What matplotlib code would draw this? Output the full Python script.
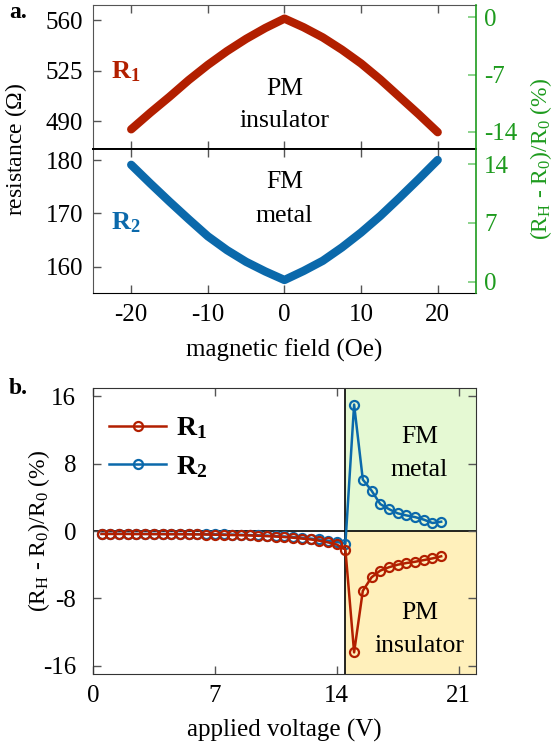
import numpy as np
import matplotlib

matplotlib.use("Agg")

import matplotlib.pyplot as plt

plt.rcParams['font.family'] = ['Liberation Serif', 'DejaVu Serif']
plt.rcParams['mathtext.fontset'] = 'custom'
plt.rcParams['mathtext.rm'] = 'Liberation Serif'
plt.rcParams['mathtext.it'] = 'Liberation Serif:italic'
plt.rcParams['mathtext.bf'] = 'Liberation Serif:bold'
plt.rcParams['axes.unicode_minus'] = False

# --- panel a: resistance vs magnetic field ---
field = [-20, -17.5, -15, -12.5, -10, -7.5, -5, -2.5, 0,
         2.5, 5, 7.5, 10, 12.5, 15, 17.5, 20]
r1 = [484.5, 496, 507, 518.5, 529, 538.5, 547, 554.5, 561,
      555, 548, 539.5, 530, 519, 507, 495, 482.5]
r2 = [179.1, 175.6, 172.2, 168.9, 165.7, 163.1, 160.9, 159.1, 157.5,
      159.2, 161.1, 163.6, 166.4, 169.5, 172.9, 176.4, 180.0]

# --- panel b: MR vs applied voltage ---
voltage = [0.5, 1.0, 1.5, 2.0, 2.5, 3.0, 3.5, 4.0, 4.5, 5.0,
           5.5, 6.0, 6.5, 7.0, 7.5, 8.0, 8.5, 9.0, 9.5, 10.0,
           10.5, 11.0, 11.5, 12.0, 12.5, 13.0, 13.5, 14.0, 14.5,
           15.0, 15.5, 16.0, 16.5, 17.0, 17.5, 18.0, 18.5, 19.0, 19.5, 20.0]
mr1 = [-0.35, -0.35, -0.35, -0.35, -0.36, -0.36, -0.37, -0.37, -0.38, -0.38,
       -0.39, -0.4, -0.42, -0.44, -0.46, -0.48, -0.5, -0.53, -0.57, -0.61,
       -0.66, -0.72, -0.8, -0.9, -1.0, -1.15, -1.35, -1.6, -2.2,
       -14.4, -7.1, -5.5, -4.7, -4.3, -4.0, -3.8, -3.65, -3.45, -3.25, -3.0]
mr2 = [-0.33, -0.33, -0.33, -0.33, -0.34, -0.34, -0.34, -0.35, -0.35, -0.35,
       -0.36, -0.37, -0.38, -0.39, -0.41, -0.43, -0.45, -0.48, -0.51, -0.55,
       -0.6, -0.65, -0.72, -0.8, -0.9, -1.0, -1.15, -1.3, -1.5,
       15.0, 6.1, 4.8, 3.2, 2.6, 2.1, 1.85, 1.65, 1.35, 0.95, 1.1]
TRANSITION_V = 14.5

RED = '#b21f00'
BLUE = '#0b69ab'
GREEN = '#1e9b1e'
LIGHT_GREEN = '#79cc79'
GRAY = '#555555'
FS = 18      # horizontal text
FSV = 17     # rotated axis labels


def two_lines(ax, x, y_top, y_bot, top, bottom):
    # phase label: two lines placed by baseline
    ax.text(x, y_top, top, ha='center', va='baseline', fontsize=FS + 0.5)
    ax.text(x, y_bot, bottom, ha='center', va='baseline', fontsize=FS + 0.5)


fig = plt.figure(figsize=(5.6, 7.46), dpi=100)
ax1 = fig.add_axes([0.1659, 0.7999, 0.6841, 0.1930])
ax2 = fig.add_axes([0.1659, 0.6068, 0.6841, 0.1930])
ax3 = fig.add_axes([0.1659, 0.0961, 0.6841, 0.3842])

ax1.plot(field, r1, color=RED, lw=6, solid_capstyle='round', solid_joinstyle='round')
ax2.plot(field, r2, color=BLUE, lw=6, solid_capstyle='round', solid_joinstyle='round')

ax1.set_ylim(470.7, 570.2)
ax1.set_yticks([490, 525, 560])
ax2.set_ylim(155.0, 182.0)
ax2.set_yticks([160, 170, 180])

for ax in (ax1, ax2):
    ax.set_xlim(-25, 25)
    ax.set_xticks([-20, -10, 0, 10, 20])
    ax.tick_params(axis='both', direction='in', length=6, width=1, color=GRAY,
                   labelsize=FS, top=True, right=False)
    ax.tick_params(axis='y', pad=7)
    ax.tick_params(axis='x', pad=8)
    for s in ('left', 'top'):
        ax.spines[s].set_color(GRAY)
    ax.spines['right'].set_visible(False)

ax1.tick_params(labelbottom=False)
ax1.spines['bottom'].set_color('black')
ax1.spines['bottom'].set_linewidth(1.4)
ax2.spines['top'].set_color('black')
ax2.spines['top'].set_linewidth(1.4)
ax2.spines['bottom'].set_color('black')
ax2.set_xlabel('magnetic field (Oe)', fontsize=FS, labelpad=9)

# right axes (percent)
t1 = ax1.twinx()
t1.set_ylim(-16.15, 1.47)
t1.set_yticks([0, -7, -14])
t2 = ax2.twinx()
t2.set_ylim(-1.38, 15.75)
t2.set_yticks([0, 7, 14])
for t in (t1, t2):
    for s in ('left', 'top', 'bottom'):
        t.spines[s].set_visible(False)
    t.spines['right'].set_color(GREEN)
    t.spines['right'].set_linewidth(1.2)
    t.tick_params(axis='y', direction='in', length=6, width=1.2, color=LIGHT_GREEN,
                  labelcolor=GREEN, labelsize=FS, pad=6)

two_lines(ax1, 0, 508.2, 486.1, 'PM', 'insulator')
two_lines(ax2, 0, 174.7, 168.4, 'FM', 'metal')
ax1.text(-22.7, 520, r'$\mathbf{R}_\mathbf{1}$', color=RED, fontsize=FS + 1,
         ha='left', va='baseline')
ax2.text(-22.7, 166.9, r'$\mathbf{R}_\mathbf{2}$', color=BLUE, fontsize=FS + 1,
         ha='left', va='baseline')

fig.text(16 / 560, 1 - 149 / 746, r'resistance ($\Omega$)', rotation=90,
         ha='center', va='center', fontsize=FSV)
fig.text(541 / 560, 1 - 159 / 746, r'(R$_\mathrm{H}$ - R$_0$)/R$_0$ (%)',
         rotation=90, ha='center', va='center', fontsize=FSV, color=GREEN)
fig.text(9 / 560, 1 - 2 / 746, 'a.', fontsize=FS - 1, fontweight='bold',
         ha='left', va='top')

# panel b
ax3.set_xlim(0, 22)
ax3.set_ylim(-17, 17)
ax3.fill_between([TRANSITION_V, 22], 0, 17, color='#e5f9d3', lw=0, zorder=0)
ax3.fill_between([TRANSITION_V, 22], -17, 0, color='#fff0bb', lw=0, zorder=0)
ax3.axvline(TRANSITION_V, color='black', lw=1.2, zorder=1)
ax3.axhline(0, color='black', lw=1.2, zorder=1)

l2, = ax3.plot(voltage, mr2, color=BLUE, lw=1.8, marker='o', ms=6.5, mfc='none',
               mew=1.6, zorder=3)
l1, = ax3.plot(voltage, mr1, color=RED, lw=1.8, marker='o', ms=6.5, mfc='none',
               mew=1.6, zorder=4)
ax3.legend([l1, l2], [r'$\mathbf{R}_\mathbf{1}$', r'$\mathbf{R}_\mathbf{2}$'],
           loc='upper left', bbox_to_anchor=(-0.022, 0.99), frameon=False,
           fontsize=FS + 2, handlelength=2.05, handletextpad=0.35,
           labelspacing=0.45, numpoints=1)

ax3.set_xticks([0, 7, 14, 21])
ax3.set_yticks([-16, -8, 0, 8, 16])
ax3.tick_params(axis='both', direction='in', length=6, width=1, color=GRAY,
                labelsize=FS, top=True, right=True)
ax3.tick_params(axis='y', pad=12)
ax3.tick_params(axis='x', pad=8)
for s in ax3.spines.values():
    s.set_color('#333333')
ax3.set_xlabel('applied voltage (V)', fontsize=FS, labelpad=8)
ax3.set_ylabel(r'(R$_\mathrm{H}$ - R$_0$)/R$_0$ (%)', fontsize=FSV)
ax3.yaxis.set_label_coords(-0.107, 0.5)

two_lines(ax3, 18.75, 10.4, 6.5, 'FM', 'metal')
two_lines(ax3, 18.75, -10.4, -14.4, 'PM', 'insulator')
fig.text(9 / 560, 1 - 378 / 746, 'b.', fontsize=FS - 1, fontweight='bold',
         ha='left', va='top')

fig.savefig('out.png', dpi=100)
